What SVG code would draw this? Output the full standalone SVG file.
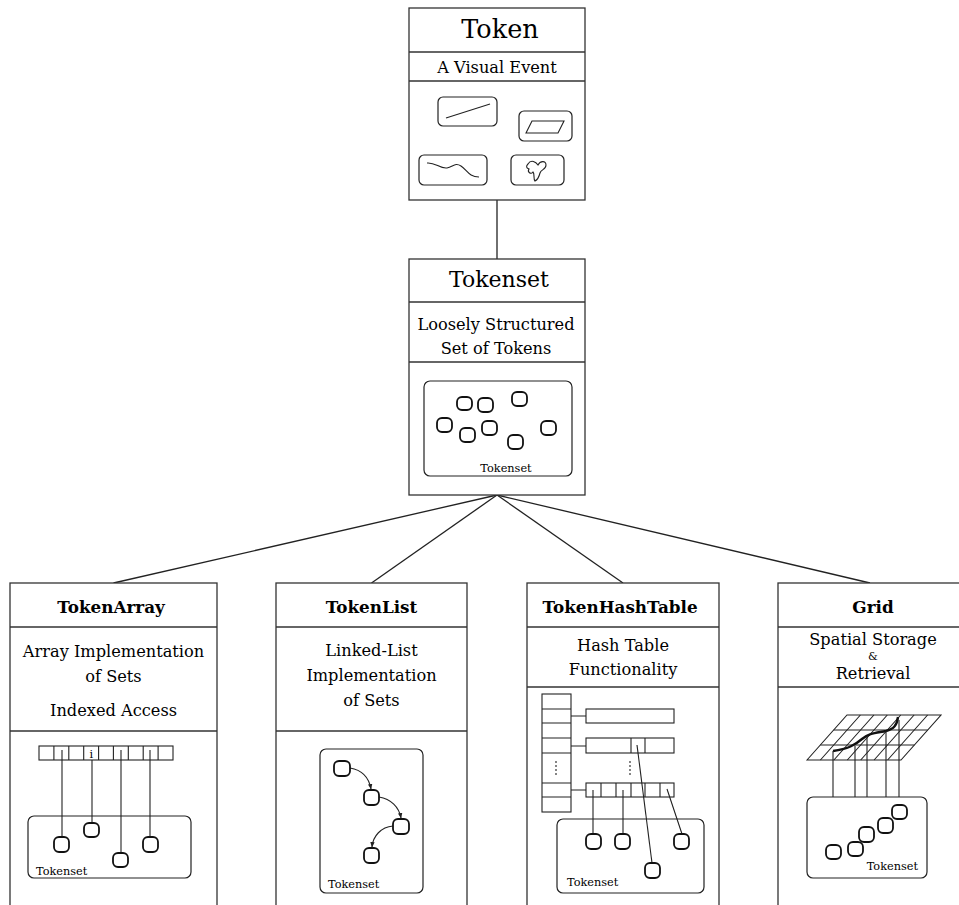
<svg xmlns="http://www.w3.org/2000/svg" width="959" height="905" viewBox="0 0 959 905">
<defs>
<style>
.box{fill:#fff;stroke:#333;stroke-width:1.3}
.div{stroke:#333;stroke-width:1.3}
.ln{stroke:#222;stroke-width:1.3;fill:none}
.thin{stroke:#222;stroke-width:1.1;fill:none}
.inner{fill:#fff;stroke:#222;stroke-width:1.2}
.tk{fill:#fff;stroke:#111;stroke-width:1.8}
.cell{fill:#fff;stroke:#222;stroke-width:1.1}
text{font-family:"DejaVu Serif","Liberation Serif",serif;fill:#000}
.big{font-size:25.5px;text-anchor:middle}
.mid{font-size:22px;text-anchor:middle}
.body{font-size:16.2px;text-anchor:middle}
.hdr{font-size:16.8px;font-weight:bold;text-anchor:middle}
.sm{font-size:11.3px}
</style>
<marker id="ah" viewBox="0 0 10 10" refX="9" refY="5" markerWidth="5" markerHeight="5" orient="auto">
<path d="M0,1 L10,5 L0,9 z" fill="#222"/>
</marker>
</defs>
<rect width="959" height="905" fill="#fff"/>

<g id="connectors">
<line class="ln" x1="497" y1="200" x2="497" y2="259"/>
<line class="ln" x1="497" y1="495" x2="113.5" y2="583"/>
<line class="ln" x1="497" y1="495" x2="371.5" y2="583"/>
<line class="ln" x1="497" y1="495" x2="623" y2="583"/>
<line class="ln" x1="497" y1="495" x2="870" y2="583"/>
</g>

<g id="token">
<rect class="box" x="409" y="8" width="176" height="192"/>
<line class="div" x1="409" y1="52" x2="585" y2="52"/>
<line class="div" x1="409" y1="81" x2="585" y2="81"/>
<text class="big" x="500" y="38">Token</text>
<text class="body" x="497" y="73">A Visual Event</text>
<rect class="inner" x="438" y="97" width="59" height="29" rx="5"/>
<line class="thin" x1="446" y1="118" x2="490" y2="104"/>
<rect class="inner" x="519" y="111" width="53" height="30" rx="5"/>
<polygon class="thin" points="526,133 532,121 564,121 558,133"/>
<rect class="inner" x="419" y="155" width="68" height="30" rx="5"/>
<path class="thin" d="M427,163 C435,162 440,169 447,168 C453,167 455,162 461,166 C467,170 469,177 479,177"/>
<rect class="inner" x="511" y="155" width="53" height="30" rx="5"/>
<path class="thin" d="M528,164 C531,159 536,162 538,165 C540,161 546,160 546,165 C546,170 541,169 540,173 C539,177 537,180 535,181 C533,179 535,174 533,172 C531,175 527,172 529,169 C526,168 526,166 528,164 z"/>
</g>

<g id="tokenset">
<rect class="box" x="409" y="259" width="176" height="236"/>
<line class="div" x1="409" y1="302" x2="585" y2="302"/>
<line class="div" x1="409" y1="362" x2="585" y2="362"/>
<text class="mid" x="499" y="287">Tokenset</text>
<text class="body" x="496" y="330">Loosely Structured</text>
<text class="body" x="496" y="354">Set of Tokens</text>
<rect class="inner" x="424" y="381" width="148" height="95" rx="6"/>
<rect class="tk" x="457" y="397" width="15" height="13" rx="5"/>
<rect class="tk" x="478" y="398" width="15" height="14" rx="5"/>
<rect class="tk" x="512" y="392" width="15" height="14" rx="5"/>
<rect class="tk" x="437" y="418" width="15" height="14" rx="5"/>
<rect class="tk" x="460" y="428" width="15" height="14" rx="5"/>
<rect class="tk" x="482" y="421" width="15" height="14" rx="5"/>
<rect class="tk" x="508" y="435" width="15" height="14" rx="5"/>
<rect class="tk" x="541" y="421" width="15" height="14" rx="5"/>
<text class="sm" x="506" y="472" text-anchor="middle">Tokenset</text>
</g>

<g id="tokenarray">
<rect class="box" x="10" y="583" width="207" height="340"/>
<line class="div" x1="10" y1="627" x2="217" y2="627"/>
<line class="div" x1="10" y1="731" x2="217" y2="731"/>
<text class="hdr" x="111" y="613">TokenArray</text>
<text class="body" x="113.5" y="657">Array Implementation</text>
<text class="body" x="113.5" y="682">of Sets</text>
<text class="body" x="113.5" y="716">Indexed Access</text>
<rect class="cell" x="39" y="746" width="134" height="14"/>
<path class="thin" d="M53.9,746V760M68.8,746V760M83.7,746V760M98.6,746V760M113.4,746V760M128.3,746V760M143.2,746V760M158.1,746V760"/>
<text class="sm" x="91.2" y="758" text-anchor="middle">i</text>
<rect class="inner" x="28" y="816" width="163" height="62" rx="6"/>
<line class="thin" x1="62" y1="750" x2="62" y2="837"/>
<line class="thin" x1="92" y1="760" x2="92" y2="823"/>
<line class="thin" x1="121" y1="750" x2="121" y2="853"/>
<line class="thin" x1="150" y1="750" x2="150" y2="837"/>
<rect class="tk" x="54" y="837" width="15" height="15" rx="5"/>
<rect class="tk" x="84" y="823" width="15" height="14" rx="5"/>
<rect class="tk" x="113" y="853" width="15" height="14" rx="5"/>
<rect class="tk" x="143" y="837" width="15" height="15" rx="5"/>
<text class="sm" x="36" y="875">Tokenset</text>
</g>

<g id="tokenlist">
<rect class="box" x="276" y="583" width="191" height="340"/>
<line class="div" x1="276" y1="627" x2="467" y2="627"/>
<line class="div" x1="276" y1="731" x2="467" y2="731"/>
<text class="hdr" x="371.5" y="613">TokenList</text>
<text class="body" x="371.5" y="656">Linked-List</text>
<text class="body" x="371.5" y="681">Implementation</text>
<text class="body" x="371.5" y="706">of Sets</text>
<rect class="inner" x="320" y="749" width="103" height="144" rx="6"/>
<path class="thin" d="M350,768 C362,770 369,778 371,789" marker-end="url(#ah)"/>
<path class="thin" d="M379,797 C391,799 399,807 401,818" marker-end="url(#ah)"/>
<path class="thin" d="M393,826 C381,827 373,836 372,847" marker-end="url(#ah)"/>
<rect class="tk" x="334" y="761" width="16" height="15" rx="5"/>
<rect class="tk" x="364" y="790" width="15" height="15" rx="5"/>
<rect class="tk" x="393" y="819" width="16" height="15" rx="5"/>
<rect class="tk" x="364" y="848" width="15" height="15" rx="5"/>
<text class="sm" x="328" y="888">Tokenset</text>
</g>

<g id="tokenhashtable">
<rect class="box" x="527" y="583" width="192" height="340"/>
<line class="div" x1="527" y1="627" x2="719" y2="627"/>
<line class="div" x1="527" y1="687" x2="719" y2="687"/>
<text class="hdr" x="620" y="613">TokenHashTable</text>
<text class="body" x="623" y="651">Hash Table</text>
<text class="body" x="623" y="675">Functionality</text>
<rect class="cell" x="542" y="694" width="29" height="118"/>
<path class="thin" d="M542,709H571M542,723H571M542,738H571M542,753H571M542,783H571M542,797H571"/>
<line class="thin" x1="556" y1="761" x2="556" y2="776" stroke-dasharray="2,2"/>
<path class="thin" d="M571,716H586M571,746H586M571,790H586"/>
<rect class="cell" x="586" y="709" width="88" height="14"/>
<rect class="cell" x="586" y="738" width="88" height="15"/>
<path class="thin" d="M631,738V753M645,738V753"/>
<line class="thin" x1="630" y1="761" x2="630" y2="776" stroke-dasharray="2,2"/>
<rect class="cell" x="586" y="783" width="88" height="14"/>
<path class="thin" d="M601,783V797M616,783V797M631,783V797M645,783V797M660,783V797"/>
<rect class="inner" x="557" y="819" width="147" height="74" rx="6"/>
<line class="thin" x1="593" y1="790" x2="593" y2="834"/>
<line class="thin" x1="623" y1="790" x2="623" y2="834"/>
<line class="thin" x1="667" y1="789" x2="682" y2="834"/>
<line class="thin" x1="637" y1="745" x2="652" y2="863"/>
<rect class="tk" x="586" y="834" width="15" height="15" rx="5"/>
<rect class="tk" x="615" y="834" width="15" height="15" rx="5"/>
<rect class="tk" x="674" y="834" width="15" height="15" rx="5"/>
<rect class="tk" x="645" y="863" width="15" height="15" rx="5"/>
<text class="sm" x="567" y="886">Tokenset</text>
</g>

<g id="grid">
<rect class="box" x="778" y="583" width="200" height="340"/>
<line class="div" x1="778" y1="627" x2="959" y2="627"/>
<line class="div" x1="778" y1="687" x2="959" y2="687"/>
<text class="hdr" x="873" y="613">Grid</text>
<text class="body" x="873" y="645">Spatial Storage</text>
<text x="873" y="660" font-size="11" text-anchor="middle">&amp;</text>
<text class="body" x="873" y="679">Retrieval</text>
<polygon class="thin" points="807,760 847,715 941,715 901,760"/>
<path class="thin" d="M833.7,730H927.7M820.3,745H914.3"/>
<path class="thin" d="M860.4,715L820.4,760M873.9,715L833.9,760M887.3,715L847.3,760M900.7,715L860.7,760M914.1,715L874.1,760M927.6,715L887.6,760"/>
<path d="M833,751 C848,749 855,745 862,739 C869,733 876,733 886,731 C894,729 897,725 898,717" fill="none" stroke="#111" stroke-width="2.4"/>
<line class="thin" x1="833" y1="751" x2="833" y2="845"/>
<line class="thin" x1="855" y1="746" x2="855" y2="842"/>
<line class="thin" x1="867" y1="737" x2="867" y2="827"/>
<line class="thin" x1="886" y1="731" x2="886" y2="818"/>
<line class="thin" x1="899" y1="720" x2="899" y2="805"/>
<rect class="inner" x="807" y="797" width="120" height="81" rx="6"/>
<rect class="tk" x="826" y="845" width="15" height="14" rx="5"/>
<rect class="tk" x="848" y="842" width="15" height="14" rx="5"/>
<rect class="tk" x="859" y="827" width="15" height="15" rx="5"/>
<rect class="tk" x="878" y="818" width="15" height="15" rx="5"/>
<rect class="tk" x="892" y="805" width="15" height="14" rx="5"/>
<text class="sm" x="918" y="870" text-anchor="end">Tokenset</text>
</g>
</svg>
